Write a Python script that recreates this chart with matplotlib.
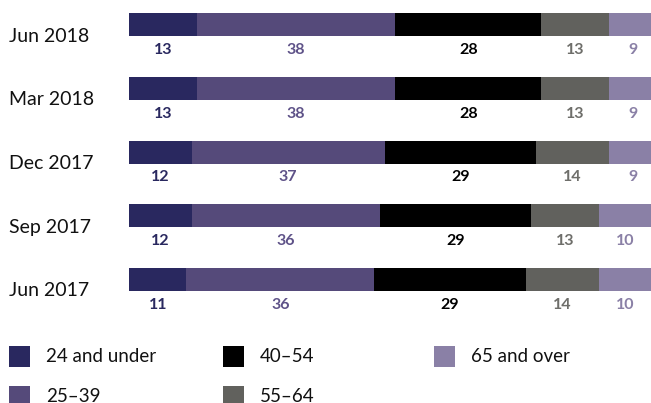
import numpy as np
import matplotlib
matplotlib.use("Agg")
import matplotlib.pyplot as plt
from matplotlib.patches import Rectangle
from matplotlib.transforms import blended_transform_factory

plt.rcParams['font.family'] = ['Lato', 'DejaVu Sans']

# survey waves, top to bottom
periods = ["Jun 2018", "Mar 2018", "Dec 2017", "Sep 2017", "Jun 2017"]
groups = ["24 and under", "25\u201339", "40\u201354", "55\u201364", "65 and over"]

under_24 = [13, 13, 12, 12, 11]
age_25_39 = [38, 38, 37, 36, 36]
age_40_54 = [28, 28, 29, 29, 29]
age_55_64 = [13, 13, 14, 13, 14]
over_65 = [9, 9, 9, 10, 10]

series = [under_24, age_25_39, age_40_54, age_55_64, over_65]
bar_colors = ["#29285f", "#554a7a", "#000000", "#61615d", "#8a80a6"]
text_colors = ["#29285f", "#5e5288", "#000000", "#6e6e6a", "#8a80a6"]

W, H = 651, 403
fig = plt.figure(figsize=(W / 100, H / 100), dpi=100)

# axes spans from x=129px to the right edge, top to 320px
ax = fig.add_axes([129 / W, 1 - 320 / H, 1 - 129 / W, 320 / H])
pitch = 63.75
ax.set_ylim((320 - 24.5) / pitch, -24.5 / pitch)
ax.set_xlim(0, 100)
ax.axis("off")

y = np.arange(len(periods))
left = np.zeros(len(periods))
for vals, bc, tc in zip(series, bar_colors, text_colors):
    vals = np.array(vals, dtype=float)
    ax.barh(y, vals, left=left, height=23 / pitch, color=bc, linewidth=0)
    for yi, l, v in zip(y, left, vals):
        ax.text(l + v / 2, yi + 25.5 / pitch, f"{int(v)}", ha="center", va="center",
                fontsize=11.5, fontweight="bold", color=tc, clip_on=False)
    left += vals

trans = blended_transform_factory(fig.transFigure, ax.transData)
for yi, p in zip(y, periods):
    ax.text(9 / W, yi + 11.5 / pitch, p, transform=trans, ha="left", va="center",
            fontsize=14, color="#111111")

# legend drawn by hand in three columns
legend_pos = [(9, 356.5), (9, 396), (223, 356.5), (223, 396), (434, 356.5)]
for (lx, ly), g, c in zip(legend_pos, groups, bar_colors):
    fig.patches.append(Rectangle((lx / W, 1 - (ly + 10.5) / H), 21 / W, 21 / H,
                                 transform=fig.transFigure, color=c, linewidth=0))
    fig.text((lx + 37) / W, 1 - ly / H, g, ha="left", va="center",
             fontsize=13.5, color="#111111")

plt.savefig("out.png", dpi=100)
